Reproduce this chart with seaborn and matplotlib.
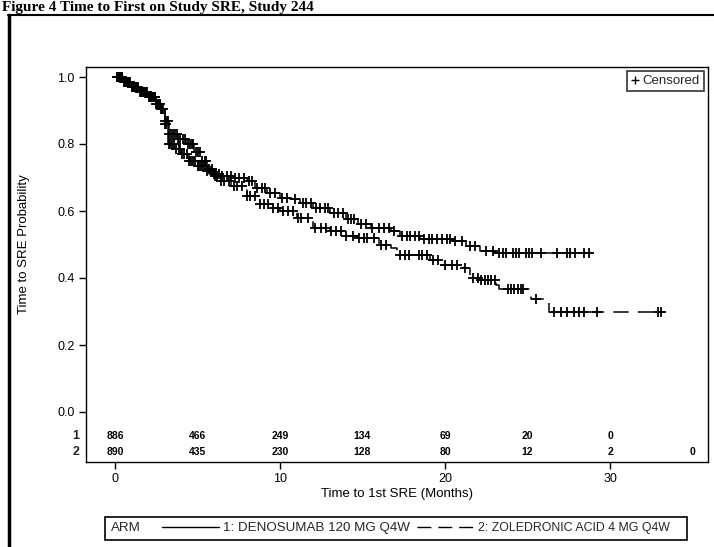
import numpy as np
import pandas as pd
import matplotlib
matplotlib.use("Agg")
import matplotlib.pyplot as plt
import seaborn as sns
from matplotlib.lines import Line2D
from matplotlib.patches import Rectangle

# ---------------- data ----------------
arm_labels = ["1: DENOSUMAB 120 MG Q4W", "2: ZOLEDRONIC ACID 4 MG Q4W"]

# Kaplan-Meier step points (time in months, survival probability)
t1 = [0, 0.5, 1.0, 1.5, 2.0, 2.5, 2.8, 3.0, 3.2, 3.6, 4.0, 4.5, 5.0, 5.5, 6.0,
      6.5, 7.2, 8.0, 8.5, 9.2, 10.0, 10.6, 11.2, 12.0, 13.0, 14.0, 14.7, 15.5,
      16.7, 17.3, 18.5, 20.5, 21.3, 22.1, 23.0, 28.9]
s1 = [1.0, 0.985, 0.97, 0.955, 0.94, 0.92, 0.905, 0.86, 0.80, 0.785, 0.77, 0.75,
      0.735, 0.72, 0.71, 0.705, 0.70, 0.69, 0.67, 0.655, 0.64, 0.635, 0.625,
      0.61, 0.595, 0.575, 0.56, 0.55, 0.54, 0.525, 0.515, 0.51, 0.495, 0.48,
      0.475, 0.475]

t2 = [0, 0.5, 1.0, 1.5, 2.0, 2.5, 2.8, 3.0, 3.3, 3.8, 4.3, 4.8, 5.2, 5.6, 6.0,
      6.4, 7.0, 8.0, 8.8, 9.5, 10.0, 11.0, 12.0, 13.0, 14.0, 14.7, 16.0, 16.7,
      17.1, 19.1, 19.7, 21.1, 21.5, 22.1, 23.1, 23.3, 25.2, 26.3, 33.2]
s2 = [1.0, 0.985, 0.97, 0.955, 0.94, 0.92, 0.905, 0.87, 0.83, 0.815, 0.80, 0.775,
      0.75, 0.725, 0.705, 0.69, 0.675, 0.645, 0.62, 0.61, 0.60, 0.58, 0.55,
      0.54, 0.525, 0.52, 0.50, 0.49, 0.47, 0.455, 0.44, 0.43, 0.40, 0.395,
      0.38, 0.367, 0.337, 0.30, 0.30]

# censoring times (months)
c1 = [0.1, 0.2, 0.3, 0.4, 0.55, 0.65, 0.75, 0.85, 1.0, 1.1, 1.2, 1.3, 1.4, 1.55,
      1.65, 1.75, 1.85, 1.95, 2.1, 2.2, 2.3, 2.4, 2.5, 2.6, 2.7, 2.8, 2.9, 3.05,
      3.1, 3.25, 3.35, 3.45, 3.55, 3.7, 3.85, 3.95, 4.05, 4.2, 4.35, 4.5, 4.6,
      4.7, 4.85, 5.0, 5.1, 5.2, 5.3, 5.4, 5.6, 5.8, 6.0, 6.15, 6.3, 6.5, 6.8,
      7.0, 7.3, 7.5, 7.8, 8.1, 8.3, 8.6, 8.9, 9.1, 9.4, 9.7, 10.1, 10.4,
      10.9, 11.4, 11.6, 11.9, 12.2, 12.4, 12.7, 12.9, 13.3, 13.5, 13.8, 14.1,
      14.3, 14.5, 14.9, 15.2, 15.6, 16.0, 16.3, 16.6, 16.9, 17.4, 17.7, 17.9,
      18.2, 18.4, 18.7, 19.0, 19.2, 19.5, 19.8, 20.1, 20.3, 20.6, 21.0, 21.5,
      21.8, 22.5, 22.9, 23.3, 23.5, 23.7, 24.1, 24.3, 24.5, 24.9, 25.1, 25.3,
      25.8, 26.8, 27.4, 27.6, 27.9, 28.4, 28.7]
c2 = [0.15, 0.25, 0.35, 0.45, 0.6, 0.7, 0.8, 0.9, 1.05, 1.15, 1.25, 1.35, 1.5,
      1.6, 1.7, 1.8, 1.9, 2.05, 2.15, 2.25, 2.35, 2.45, 2.55, 2.65, 2.75, 2.85,
      3.0, 3.15, 3.2, 3.3, 3.4, 3.5, 3.65, 3.75, 3.8, 3.95, 4.1, 4.25, 4.4,
      4.55, 4.65, 4.75, 4.9, 5.05, 5.15, 5.3, 5.45, 5.5, 5.7, 5.9, 6.05, 6.2,
      6.4, 6.6, 6.9, 7.2, 7.4, 7.7, 8.0, 8.2, 8.5, 8.8, 9.0, 9.3, 9.6, 9.9,
      10.2, 10.5, 10.8, 11.1, 11.3, 11.7, 12.1, 12.5, 12.8, 13.1, 13.4, 13.7,
      14.0, 14.4, 14.8, 15.1, 15.3, 15.7, 16.1, 16.4, 17.3, 17.6, 17.8, 18.4,
      18.6, 18.9, 19.3, 19.6, 20.0, 20.4, 20.7, 21.2, 21.7, 22.0, 22.2, 22.4,
      22.6, 22.8, 23.0, 23.8, 24.0, 24.2, 24.4, 24.6, 24.7, 25.5, 26.6, 27.0,
      27.4, 27.8, 28.1, 28.4, 29.2, 32.9, 33.1]

# numbers at risk
risk_times = [0, 5, 10, 15, 20, 25, 30, 35]
risk1 = ["886", "466", "249", "134", "69", "20", "0", ""]
risk2 = ["890", "435", "230", "128", "80", "12", "2", "0"]

xticks = [0, 10, 20, 30]
yticks = [0.0, 0.2, 0.4, 0.6, 0.8, 1.0]

# ---------------- style ----------------
sns.set_style("ticks")
plt.rcParams["font.family"] = ["Liberation Sans", "DejaVu Sans"]

W, H = 714, 547
fig = plt.figure(figsize=(W / 100, H / 100), dpi=100)

def fx(px):
    return px / W

def fy(py):
    return 1 - py / H

ax_l, ax_r, ax_t, ax_b = 86, 708, 67, 462
ax = fig.add_axes([fx(ax_l), fy(ax_b), fx(ax_r - ax_l), (ax_b - ax_t) / H])

# curves
df = pd.concat([
    pd.DataFrame({"time": t1, "surv": s1, "arm": arm_labels[0]}),
    pd.DataFrame({"time": t2, "surv": s2, "arm": arm_labels[1]}),
], ignore_index=True)

sns.lineplot(data=df, x="time", y="surv", style="arm", hue="arm",
             palette={arm_labels[0]: "black", arm_labels[1]: "black"},
             dashes={arm_labels[0]: "", arm_labels[1]: (10, 6)},
             drawstyle="steps-post", estimator=None, sort=False,
             linewidth=1.1, legend=False, ax=ax)

def surv_at(times, survs, c):
    times = np.asarray(times)
    survs = np.asarray(survs)
    idx = np.searchsorted(times, c, side="right") - 1
    return survs[idx]

cdf = pd.concat([
    pd.DataFrame({"time": c1, "surv": surv_at(t1, s1, c1), "arm": arm_labels[0]}),
    pd.DataFrame({"time": c2, "surv": surv_at(t2, s2, c2), "arm": arm_labels[1]}),
], ignore_index=True)
sns.scatterplot(data=cdf, x="time", y="surv", marker="+", color="black",
                s=55, linewidth=1.3, legend=False, ax=ax, zorder=3)

# axes setup
x_lo = (ax_l - 115) / 16.5
x_hi = (ax_r - 115) / 16.5
y_lo = (412 - ax_b) / 335
y_hi = (412 - ax_t) / 335
ax.set_xlim(x_lo, x_hi)
ax.set_ylim(y_lo, y_hi)
ax.set_xticks(xticks)
ax.set_xticklabels([str(v) for v in xticks])
ax.set_yticks(yticks)
ax.set_yticklabels([f"{v:.1f}" for v in yticks])
ax.tick_params(axis="both", direction="out", length=5, width=1, labelsize=9,
               color="black", labelcolor="black", pad=3)
for sp in ax.spines.values():
    sp.set_visible(True)
    sp.set_color("black")
    sp.set_linewidth(1.0)

ax.set_ylabel("Time to SRE Probability", fontsize=9.5, color="black")
ax.yaxis.set_label_coords((30 - ax_l) / (ax_r - ax_l), (ax_b - 244) / (ax_b - ax_t))
ax.set_xlabel("Time to 1st SRE (Months)", fontsize=9.5, color="black")
ax.xaxis.label.set_va("center")
ax.xaxis.set_label_coords(0.5, -(494 - ax_b) / (ax_b - ax_t))

# numbers at risk
y_r1 = (412 - 436) / 335
y_r2 = (412 - 452) / 335
for t, a, b in zip(risk_times, risk1, risk2):
    if a:
        ax.text(t, y_r1, a, ha="center", va="center", fontsize=7.5,
                fontweight="bold", color="black")
    if b:
        ax.text(t, y_r2, b, ha="center", va="center", fontsize=7.5,
                fontweight="bold", color="black")
x_lab = (76 - 115) / 16.5
ax.text(x_lab, y_r1, "1", ha="center", va="center", fontsize=9,
        fontweight="bold", clip_on=False)
ax.text(x_lab, y_r2, "2", ha="center", va="center", fontsize=9,
        fontweight="bold", clip_on=False)

# censored legend
cens_handle = Line2D([], [], marker="+", linestyle="none", color="black",
                     markersize=6, markeredgewidth=1)
leg = ax.legend([cens_handle], ["Censored"], loc="upper right", fontsize=9.5,
                frameon=True, fancybox=False, edgecolor="black",
                handlelength=0.6, handletextpad=0.3, borderpad=0.3,
                borderaxespad=0.3)
leg.get_frame().set_linewidth(1.2)

# bottom ARM legend
h1 = Line2D([], [], color="black", linewidth=1.0, linestyle="-")
h2 = Line2D([], [], color="black", linewidth=1.0, linestyle=(0, (10, 5)))
arm_leg = fig.legend([h1, h2], arm_labels, loc="center left",
                     bbox_to_anchor=(fx(162), fy(528)), ncol=2, frameon=False,
                     fontsize=9.6, handlelength=4.3, handletextpad=0.3,
                     columnspacing=0.5, borderpad=0, borderaxespad=0)
arm_leg.get_texts()[1].set_fontsize(8.9)
fig.text(fx(111), fy(528), "ARM", ha="left", va="center", fontsize=9.6)
fig.add_artist(Rectangle((fx(105), fy(540)), fx(687 - 105), (540 - 517) / H,
                         transform=fig.transFigure, fill=False,
                         edgecolor="black", linewidth=1.2))

# page border and title
fig.add_artist(Line2D([fx(8), 1.0], [fy(15), fy(15)], transform=fig.transFigure,
                      color="black", linewidth=1.5))
fig.add_artist(Line2D([fx(9), fx(9)], [fy(15), 0.0], transform=fig.transFigure,
                      color="black", linewidth=2.5))
fig.text(fx(2), fy(11), "Figure 4 Time to First on Study SRE, Study 244",
         ha="left", va="baseline", fontsize=11, fontweight="bold",
         family=["Liberation Serif", "DejaVu Serif"], color="black")

fig.savefig("out.png", dpi=100, facecolor="white")
